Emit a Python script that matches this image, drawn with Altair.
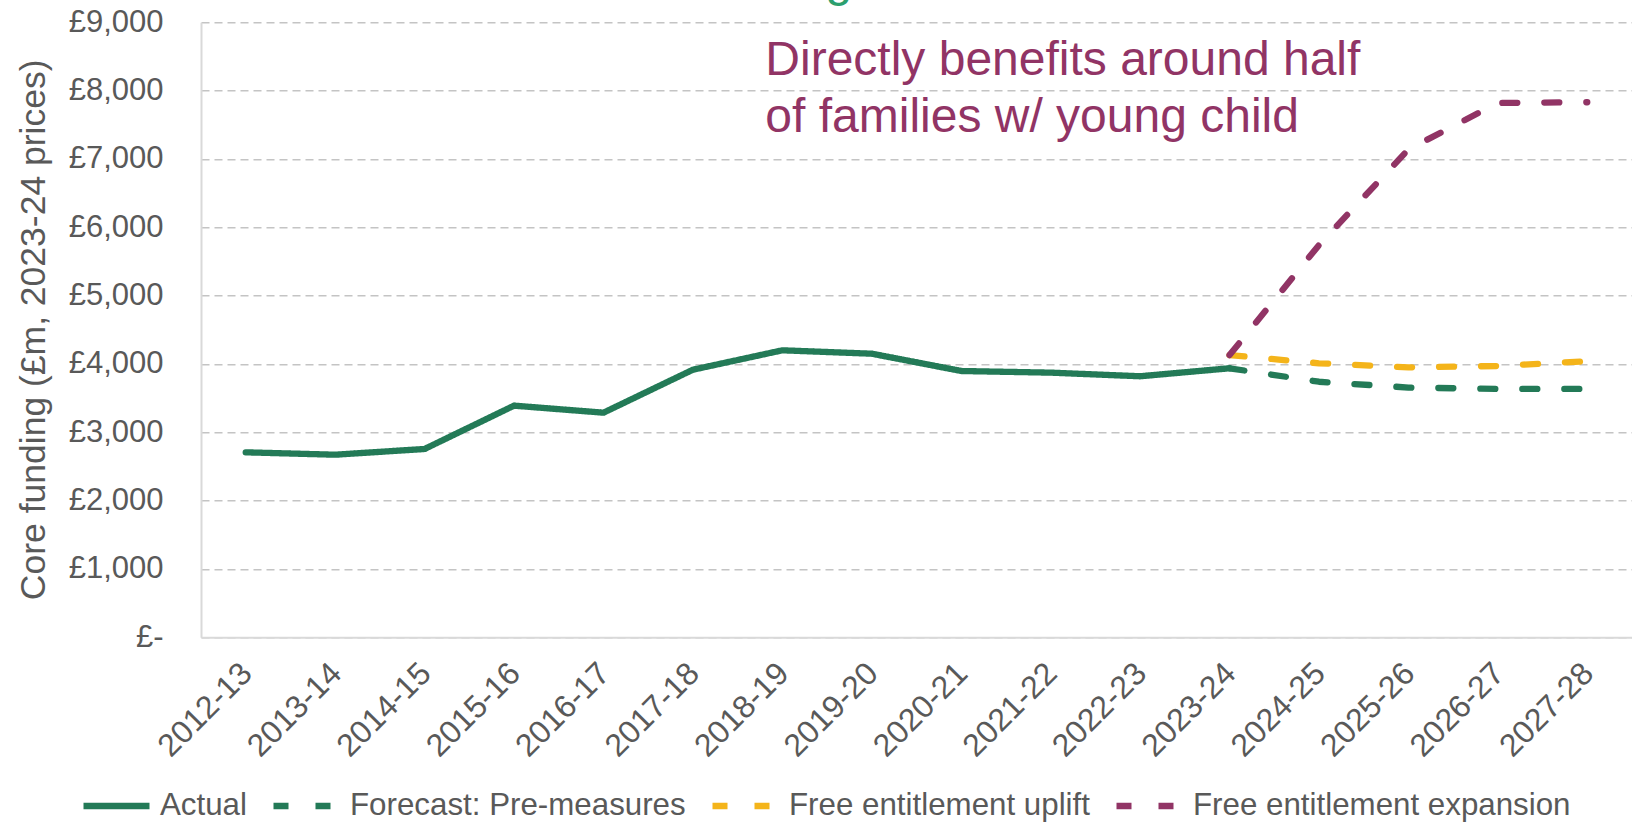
import altair as alt
import pandas as pd

years = ["2012-13", "2013-14", "2014-15", "2015-16", "2016-17", "2017-18",
         "2018-19", "2019-20", "2020-21", "2021-22", "2022-23", "2023-24",
         "2024-25", "2025-26", "2026-27", "2027-28"]

actual_years = years[:12]
actual = [2707, 2672, 2756, 3390, 3287, 3916, 4200, 4150, 3897, 3873, 3820, 3937]

fc_years = years[11:]
forecast_pre = [3937, 3740, 3655, 3635, 3635]
uplift = [4130, 4010, 3950, 3970, 4040]
expansion = [4130, 5740, 7140, 7820, 7830]

series = ["Actual", "Forecast: Pre-measures", "Free entitlement uplift",
          "Free entitlement expansion"]
colors = ["#237A57", "#237A57", "#F4B41A", "#913465"]
dashes = [[1, 0], [15, 27], [15, 27], [15, 27]]

note_lines = ["Directly benefits around half", "of families w/ young child"]
note_y = [8229, 7397]

rows = []
for y, v in zip(actual_years, actual):
    rows.append({"series": series[0], "year": y, "value": v, "order": 0})
for name, vals, k in [(series[1], forecast_pre, 1), (series[2], uplift, 2),
                      (series[3], expansion, 3)]:
    for y, v in zip(fc_years, vals):
        rows.append({"series": name, "year": y, "value": v, "order": k})
df = pd.DataFrame(rows)

FONT = "Liberation Sans"
GREY = "#595959"

x_enc = alt.X("year:O", sort=years, title=None,
              axis=alt.Axis(labelAngle=-45, labelFontSize=32, labelFont=FONT,
                            labelColor=GREY, labelPadding=20, labelOffset=-10,
                            ticks=False, domainColor="#D9D9D9", domainWidth=2,
                            grid=False))

lines = alt.Chart(df).mark_line(strokeWidth=6.3, strokeCap="round",
                                strokeJoin="round").encode(
    x=x_enc,
    y=alt.Y("value:Q", scale=alt.Scale(domain=[0, 9000], nice=False),
            axis=alt.Axis(values=list(range(0, 9001, 1000)),
                          labelExpr="datum.value == 0 ? '£-\u00a0\u00a0' : '£' + format(datum.value, ',')",
                          labelFontSize=31, labelFont=FONT, labelColor=GREY,
                          labelPadding=38, ticks=False,
                          domainColor="#D9D9D9", domainWidth=2,
                          grid=True, gridColor="#C4C4C4", gridDash=[8, 5],
                          gridWidth=1.6,
                          title="Core funding (£m, 2023-24 prices)",
                          titleFontSize=35.5, titleFont=FONT, titleColor=GREY,
                          titleFontWeight="normal", titleAngle=270,
                          titleX=-168, titleY=307, titleAlign="center",
                          titleBaseline="middle")),
    color=alt.Color("series:N", scale=alt.Scale(domain=series, range=colors),
                    legend=alt.Legend(title=None)),
    strokeDash=alt.StrokeDash("series:N",
                              scale=alt.Scale(domain=series, range=dashes),
                              legend=alt.Legend(title=None)),
    order=alt.Order("order:Q"),
)

note_df = pd.DataFrame({"year": ["2018-19", "2018-19"], "value": note_y,
                        "text": note_lines})
note = alt.Chart(note_df).mark_text(
    align="left", baseline="alphabetic", fontSize=48, font=FONT,
    color="#913465", dx=-17).encode(
    x=alt.X("year:O", sort=years), y="value:Q", text="text:N")

cut_df = pd.DataFrame({"year": ["2019-20"], "value": [9385], "text": ["g"]})
cut = alt.Chart(cut_df).mark_text(
    align="center", baseline="alphabetic", fontSize=48, font=FONT,
    color="#2C9F6E", dx=-33).encode(
    x=alt.X("year:O", sort=years), y="value:Q", text="text:N")

chart = alt.layer(lines, note, cut).properties(
    width=1431, height=615,
    autosize=alt.AutoSizeParams(type="none"),
    padding={"left": 201, "top": 22.3, "right": 0, "bottom": 186.7},
).configure_view(strokeWidth=0).configure_legend(
    orient="none", legendX=-121, legendY=747, direction="horizontal",
    symbolType="stroke", symbolSize=4356, symbolStrokeWidth=6.5,
    labelFontSize=31.3, labelFont=FONT, labelColor=GREY, labelOffset=7,
    columnPadding=13, padding=0, labelLimit=0,
)

chart.save("out.html", embed_options={"renderer": "svg", "actions": False})
